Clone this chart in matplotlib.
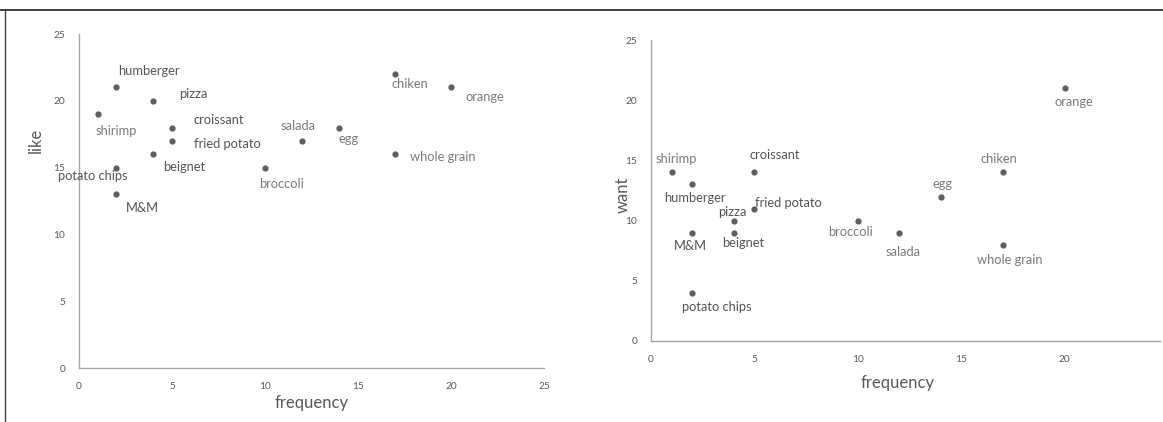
import matplotlib
matplotlib.use("Agg")
import matplotlib.pyplot as plt
from matplotlib.lines import Line2D

plt.rcParams['font.family'] = ['Lato', 'DejaVu Sans']

# Datos: alimentos, frecuencia, "like" y "want"
foods = ['humberger', 'pizza', 'shirimp', 'croissant', 'fried potato', 'beignet',
         'potato chips', 'M&M', 'salada', 'egg', 'broccoli', 'chiken', 'orange', 'whole grain']
freq_like = [2, 4, 1, 5, 5, 4, 2, 2, 12, 14, 10, 17, 20, 17]
like = [21, 20, 19, 18, 17, 16, 15, 13, 17, 18, 15, 22, 21, 16]
freq_want = [2, 4, 1, 5, 5, 4, 2, 2, 12, 14, 10, 17, 20, 17]
want = [13, 10, 14, 14, 11, 9, 4, 9, 9, 12, 10, 14, 21, 8]
ticks = [0, 5, 10, 15, 20, 25]

# Etiquetas mas oscuras (igual que en el original)
dark_labels = {'humberger', 'pizza', 'croissant', 'fried potato', 'beignet', 'potato chips', 'M&M'}

# Desplazamiento de cada etiqueta en pixeles (dx, dy hacia arriba)
off_like = {
    'humberger': (33, 16), 'pizza': (40, 7), 'shirimp': (19, -17), 'croissant': (47, 8),
    'fried potato': (55, -3), 'beignet': (31, -13), 'potato chips': (-23, -8), 'M&M': (26, -14),
    'salada': (-4, 15), 'egg': (9, -11), 'broccoli': (17, -16), 'chiken': (15, -10),
    'orange': (34, -10), 'whole grain': (48, -3),
}
off_want = {
    'humberger': (2, -14), 'pizza': (-1, 9), 'shirimp': (5, 13), 'croissant': (20, 17),
    'fried potato': (34, 6), 'beignet': (9, -10), 'potato chips': (24, -14), 'M&M': (-2, -13),
    'salada': (4, -19), 'egg': (2, 13), 'broccoli': (-7, -11), 'chiken': (-4, 13),
    'orange': (9, -14), 'whole grain': (7, -15),
}

W, H = 1163, 422
fig = plt.figure(figsize=(W / 100, H / 100), dpi=100)


def make_axes(box, xs, ys, offsets, xmax, xticks):
    x0, y_top, x1, y_bot = box
    ax = fig.add_axes([x0 / W, 1 - y_bot / H, (x1 - x0) / W, (y_bot - y_top) / H])
    ax.scatter(xs, ys, s=12, color='#5e5e5e', zorder=3, clip_on=False)
    for name, x, y in zip(foods, xs, ys):
        color = '#555555' if name in dark_labels else '#7a7a7a'
        ax.annotate(name, (x, y), xytext=offsets[name], textcoords='offset pixels',
                    ha='center', va='center', fontsize=9.3, color=color)
    ax.set_xlim(0, xmax)
    ax.set_ylim(0, 25)
    ax.set_xticks(xticks)
    ax.set_yticks(ticks)
    ax.tick_params(length=0, labelsize=7.3, labelcolor='#595959')
    ax.tick_params(axis='x', pad=10)
    ax.tick_params(axis='y', pad=10)
    for side in ['top', 'right']:
        ax.spines[side].set_visible(False)
    for side in ['left', 'bottom']:
        ax.spines[side].set_color('#a6a6a6')
        ax.spines[side].set_linewidth(1.0)
    return ax


ax1 = make_axes((79, 34, 544, 368), freq_like, like, off_like, 25, ticks)
ax2 = make_axes((651, 40, 1160, 341), freq_want, want, off_want, 24.6, ticks[:-1])

# Titulos de los ejes
fig.text(36 / W, 1 - 140 / H, 'like', rotation=90, ha='center', va='center', fontsize=12, color='#595959')
fig.text(312 / W, 1 - 403 / H, 'frequency', ha='center', va='center', fontsize=12, color='#595959')
fig.text(623 / W, 1 - 195 / H, 'want', rotation=90, ha='center', va='center', fontsize=12, color='#595959')
fig.text(898 / W, 1 - 383 / H, 'frequency', ha='center', va='center', fontsize=12, color='#595959')

# Marco de la captura
fig.add_artist(Line2D([0, 1], [1 - 10 / H, 1 - 10 / H], color='#202020', lw=1.2))
fig.add_artist(Line2D([5 / W, 5 / W], [0, 1 - 10 / H], color='#404040', lw=1.0))

fig.savefig('out.png', dpi=100)
